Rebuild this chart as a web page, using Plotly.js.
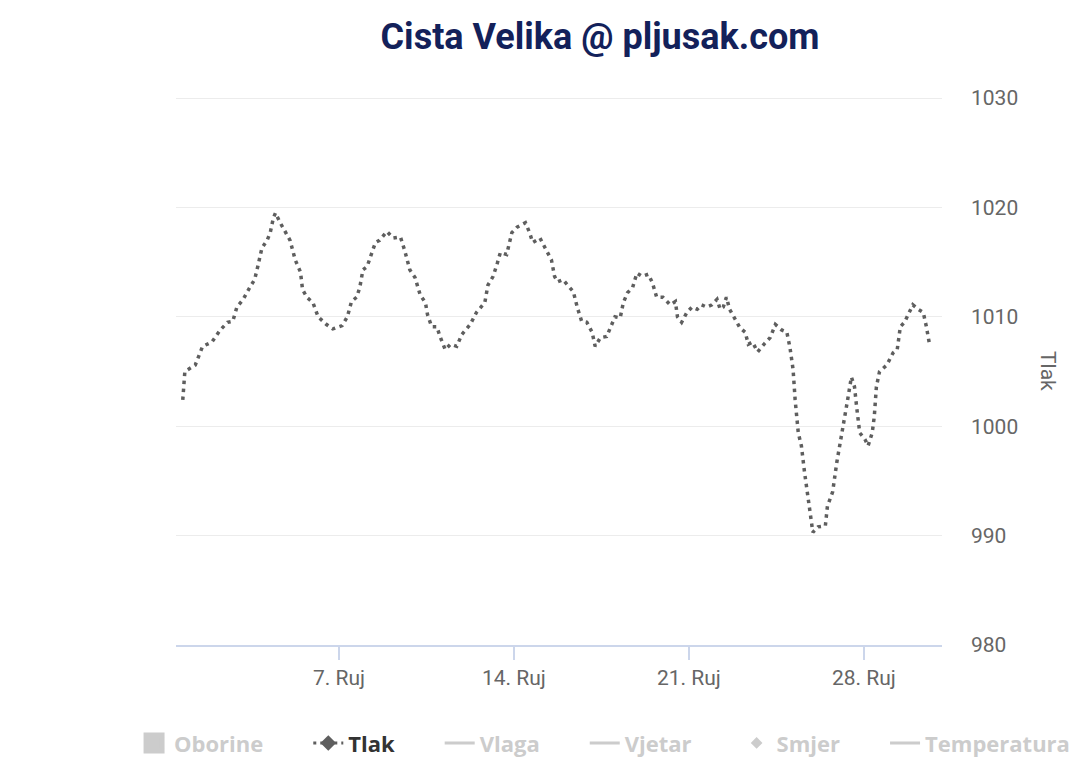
<!DOCTYPE html>
<html>
<head>
<meta charset="utf-8">
<script src="https://cdn.plot.ly/plotly-3.0.1.min.js"></script>
<style>
html,body{margin:0;padding:0;background:#fff;}
#chart{width:1089px;height:775px;}
</style>
</head>
<body>
<div id="chart"></div>
<script>
// Tlak (pressure, hPa) readings
const times = [
 "2023-08-31 18:00","2023-08-31 20:00","2023-09-01 06:00","2023-09-01 13:00","2023-09-01 22:00",
 "2023-09-02 06:00","2023-09-02 13:00","2023-09-02 18:00","2023-09-02 22:00",
 "2023-09-03 04:00","2023-09-03 11:00","2023-09-03 15:00","2023-09-03 18:00","2023-09-03 20:00","2023-09-03 22:00",
 "2023-09-04 03:00","2023-09-04 06:00","2023-09-04 09:00","2023-09-04 11:00","2023-09-04 15:00","2023-09-04 20:00",
 "2023-09-05 01:00","2023-09-05 06:00","2023-09-05 11:00","2023-09-05 13:00","2023-09-05 17:00","2023-09-05 23:00",
 "2023-09-06 04:00","2023-09-06 12:00","2023-09-06 18:00",
 "2023-09-07 03:00","2023-09-07 08:00","2023-09-07 12:00","2023-09-07 17:00","2023-09-07 20:00","2023-09-07 23:00",
 "2023-09-08 03:00","2023-09-08 11:00","2023-09-08 15:00","2023-09-08 22:00",
 "2023-09-09 04:00","2023-09-09 11:00","2023-09-09 15:00","2023-09-09 20:00",
 "2023-09-10 01:00","2023-09-10 06:00","2023-09-10 11:00","2023-09-10 13:00","2023-09-10 17:00","2023-09-10 22:00",
 "2023-09-11 01:00","2023-09-11 06:00","2023-09-11 11:00","2023-09-11 17:00","2023-09-11 22:00",
 "2023-09-12 06:00","2023-09-12 12:00","2023-09-12 20:00","2023-09-12 23:00",
 "2023-09-13 04:00","2023-09-13 08:00","2023-09-13 11:00","2023-09-13 17:00","2023-09-13 18:00","2023-09-13 22:00",
 "2023-09-14 03:00","2023-09-14 11:00","2023-09-14 15:00","2023-09-14 18:00",
 "2023-09-15 01:00","2023-09-15 08:00","2023-09-15 12:00","2023-09-15 15:00","2023-09-15 18:00","2023-09-15 23:00",
 "2023-09-16 04:00","2023-09-16 09:00","2023-09-16 13:00","2023-09-16 17:00","2023-09-16 22:00",
 "2023-09-17 03:00","2023-09-17 06:00","2023-09-17 11:00","2023-09-17 17:00","2023-09-17 22:00",
 "2023-09-18 01:00","2023-09-18 06:00","2023-09-18 09:00","2023-09-18 13:00","2023-09-18 18:00","2023-09-18 22:00",
 "2023-09-19 03:00","2023-09-19 09:00","2023-09-19 13:00","2023-09-19 17:00","2023-09-19 23:00",
 "2023-09-20 06:00","2023-09-20 11:00","2023-09-20 13:00","2023-09-20 17:00","2023-09-20 22:00",
 "2023-09-21 03:00","2023-09-21 08:00","2023-09-21 12:00","2023-09-21 17:00","2023-09-21 22:00",
 "2023-09-22 03:00","2023-09-22 06:00","2023-09-22 09:00","2023-09-22 12:00","2023-09-22 15:00","2023-09-22 20:00",
 "2023-09-23 01:00","2023-09-23 06:00","2023-09-23 09:00","2023-09-23 13:00","2023-09-23 18:00",
 "2023-09-24 01:00","2023-09-24 06:00","2023-09-24 11:00","2023-09-24 17:00","2023-09-24 22:00",
 "2023-09-25 01:00","2023-09-25 04:00","2023-09-25 06:00","2023-09-25 09:00","2023-09-25 12:00","2023-09-25 15:00","2023-09-25 18:00","2023-09-25 22:00","2023-09-25 23:00",
 "2023-09-26 04:00","2023-09-26 11:00","2023-09-26 13:00","2023-09-26 18:00","2023-09-26 22:00",
 "2023-09-27 03:00","2023-09-27 08:00","2023-09-27 12:00","2023-09-27 15:00","2023-09-27 17:00","2023-09-27 20:00",
 "2023-09-28 01:00","2023-09-28 04:00","2023-09-28 08:00","2023-09-28 10:00","2023-09-28 12:00","2023-09-28 15:00","2023-09-28 22:00",
 "2023-09-29 04:00","2023-09-29 08:00","2023-09-29 11:00","2023-09-29 15:00","2023-09-29 20:00","2023-09-29 23:00",
 "2023-09-30 04:00","2023-09-30 09:00","2023-09-30 12:00","2023-09-30 15:00"
];
const tlak = [
 1002.4,1005.0,1005.6,1007.3,1007.7,
 1008.8,1009.5,1009.6,1010.9,
 1011.6,1012.8,1013.4,1014.6,1015.5,1016.3,
 1017.0,1017.7,1019.05,1019.5,1018.7,1017.8,
 1017.0,1015.2,1014.1,1012.5,1011.8,1011.3,
 1010.0,1009.3,1008.9,
 1009.2,1010.0,1011.4,1011.8,1012.7,1014.3,
 1014.6,1016.8,1017.0,1017.8,
 1017.2,1017.3,1016.1,1014.3,
 1013.6,1012.0,1011.3,1010.2,1009.1,1009.1,
 1008.2,1007.0,1007.5,1007.3,1008.4,
 1009.3,1010.4,1011.3,1012.9,
 1013.7,1014.9,1015.9,1015.7,1016.1,1017.7,
 1018.2,1018.6,1017.7,1016.8,
 1017.2,1016.0,1015.2,1013.7,1013.2,1013.4,
 1012.9,1012.3,1010.8,1009.6,1009.5,
 1008.6,1007.3,1008.1,1008.2,1009.3,
 1010.0,1009.9,1011.3,1012.2,1012.7,1014.0,
 1013.7,1013.9,1013.1,1011.8,1011.8,
 1011.1,1011.4,1010.0,1009.5,1010.4,
 1010.9,1010.7,1011.1,1010.9,1011.1,
 1011.6,1010.7,1010.9,1011.8,1010.7,1009.9,
 1009.0,1008.6,1007.5,1007.7,1006.8,
 1007.6,1008.1,1009.3,1008.8,1008.6,
 1007.2,1005.2,1002.4,999.4,998.2,995.8,993.6,991.2,990.3,
 990.8,990.9,992.7,994.0,996.7,
 999.7,1002.2,1004.5,1003.6,1001.8,999.4,
 998.8,998.2,999.4,1000.9,1003.6,1005.0,1005.6,
 1006.7,1007.0,1009.1,1009.5,1010.4,1011.1,
 1010.7,1010.4,1009.1,1007.5
];
const tickDates = ["2023-09-07","2023-09-14","2023-09-21","2023-09-28"];
const tickLabels = ["7. Ruj","14. Ruj","21. Ruj","28. Ruj"];
const seriesNames = ["Oborine","Tlak","Vlaga","Vjetar","Smjer","Temperatura"];

const GAP = '\u00a0\u00a0\u00a0\u00a0\u00a0\u00a0\u00a0';
const hidden = c => '<span style="color:#cccccc">' + c + '</span>' + GAP;
const LINE = '#5e5e5e', OFF = '#cccccc', DASH = '3.5px,4.5px';

const data = [
  {type:'scatter', mode:'markers', x:[null], y:[null], name:hidden(seriesNames[0]),
   marker:{symbol:'square', size:16, color:OFF, line:{color:OFF, width:5}}},
  {type:'scatter', mode:'lines+markers', x:[null], y:[null], name:'<span style="color:#333333">' + seriesNames[1] + '</span>' + GAP,
   line:{color:LINE, width:3, dash:'3px,4px'}, marker:{symbol:'diamond', size:12, color:LINE}},
  {type:'scatter', mode:'lines', x:[null], y:[null], name:hidden(seriesNames[2]), line:{color:OFF, width:3}},
  {type:'scatter', mode:'lines', x:[null], y:[null], name:hidden(seriesNames[3]), line:{color:OFF, width:3}},
  {type:'scatter', mode:'markers', x:[null], y:[null], name:hidden(seriesNames[4]), marker:{symbol:'diamond', size:9, color:OFF}},
  {type:'scatter', mode:'lines', x:[null], y:[null], name:'<span style="color:#cccccc">' + seriesNames[5] + '</span>', line:{color:OFF, width:3}},
  {type:'scatter', mode:'lines', x:times, y:tlak, name:'Tlak', showlegend:false,
   line:{color:LINE, width:3.5, dash:DASH}, hoverinfo:'x+y'}
];

const layout = {
  width:1089, height:775,
  margin:{l:176, r:147, t:97, b:129},
  paper_bgcolor:'#fff', plot_bgcolor:'#fff',
  font:{family:'Roboto, sans-serif', color:'#666'},
  title:{text:'Cista Velika @ pljusak.com', x:600/1089, xanchor:'center', xref:'container',
         y:1-36/775, yanchor:'middle', yref:'container',
         font:{family:'Roboto, sans-serif', size:36, weight:'bold', color:'#13215a'}},
  xaxis:{type:'date', range:['2023-08-31 11:30','2023-10-01 03:00'],
         tickmode:'array', tickvals:tickDates, ticktext:tickLabels,
         showgrid:false, zeroline:false, showline:true, linecolor:'#ccd6eb', linewidth:1.5,
         ticks:'outside', ticklen:13, tickcolor:'#ccd6eb', tickwidth:1.5,
         tickfont:{size:21, color:'#666'}},
  yaxis:{side:'right', range:[980,1030.1], tickmode:'linear', tick0:980, dtick:10,
         showgrid:true, gridcolor:'#ececec', gridwidth:1, zeroline:false, showline:false,
         ticks:'', ticklabelstandoff:28, tickfont:{size:21, color:'#666'}},
  showlegend:true,
  legend:{orientation:'h', x:(134-176)/767, xanchor:'left', y:-0.177, yanchor:'middle',
          font:{family:'"Open Sans", sans-serif', size:22, weight:'bold', color:'#333'},
          traceorder:'normal'},
  annotations:[{text:'Tlak', xref:'paper', yref:'paper', x:(1048-176)/766, y:0.5,
                xanchor:'center', yanchor:'middle', textangle:90, showarrow:false,
                font:{size:21, color:'#666'}}]
};

Plotly.newPlot('chart', data, layout, {displayModeBar:false, staticPlot:true});
</script>
</body>
</html>
